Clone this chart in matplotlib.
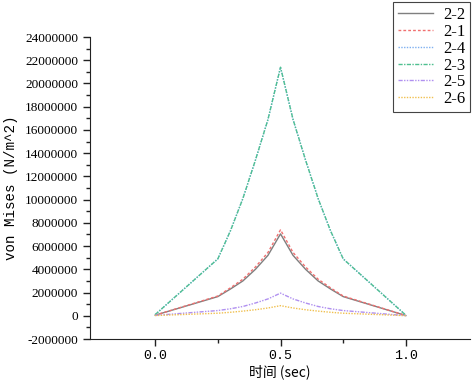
import matplotlib
matplotlib.use("Agg")
import matplotlib.pyplot as plt
from matplotlib.ticker import MultipleLocator, FixedLocator

plt.rcParams['font.family'] = ['Noto Sans CJK SC', 'DejaVu Sans']

t = [0.0, 0.25, 0.3, 0.35, 0.4, 0.45, 0.5, 0.55, 0.6, 0.65, 0.7, 0.75, 1.0]
s22 = [0.05e6, 1.65e6, 2.3e6, 3.0e6, 4.0e6, 5.2e6, 7.05e6, 5.2e6, 4.0e6, 3.0e6, 2.3e6, 1.65e6, 0.02e6]
s21 = [0.05e6, 1.7e6, 2.4e6, 3.15e6, 4.2e6, 5.45e6, 7.4e6, 5.45e6, 4.2e6, 3.15e6, 2.4e6, 1.7e6, 0.02e6]
s24 = [0.1e6, 4.9e6, 7.3e6, 10.1e6, 13.4e6, 16.9e6, 21.4e6, 16.9e6, 13.4e6, 10.1e6, 7.3e6, 4.9e6, 0.05e6]
s23 = [0.1e6, 4.9e6, 7.3e6, 10.1e6, 13.4e6, 16.9e6, 21.4e6, 16.9e6, 13.4e6, 10.1e6, 7.3e6, 4.9e6, 0.05e6]
s25 = [0.03e6, 0.45e6, 0.6e6, 0.8e6, 1.1e6, 1.45e6, 1.95e6, 1.45e6, 1.1e6, 0.8e6, 0.6e6, 0.45e6, 0.01e6]
s26 = [0.02e6, 0.22e6, 0.3e6, 0.4e6, 0.52e6, 0.67e6, 0.87e6, 0.67e6, 0.52e6, 0.4e6, 0.3e6, 0.22e6, 0.01e6]
labels = ["2-2", "2-1", "2-4", "2-3", "2-5", "2-6"]
yticks = list(range(-2000000, 24000001, 2000000))
xticks = [0.0, 0.5, 1.0]
xticklabels = ["0.0", "0.5", "1.0"]

fig = plt.figure(figsize=(4.72, 3.83), dpi=100)
ax = fig.add_axes([90/472, 44/383, 380/472, 302/383])

series = [s22, s21, s24, s23, s25, s26]
styles = [
    dict(color='#7f7f7f', ls='-', lw=1.0),
    dict(color='#f07070', ls=(0, (2, 1.5)), lw=1.0),
    dict(color='#7fb0f0', ls=(0, (1, 1)), lw=1.0),
    dict(color='#50c090', ls=(0, (3, 1, 1, 1)), lw=1.0),
    dict(color='#b090f0', ls=(0, (3, 1, 1, 1, 1, 1)), lw=1.0),
    dict(color='#f0c050', ls=(0, (1, 1)), lw=1.0),
]
handles = []
for s, st, lab in zip(series, styles, labels):
    h, = ax.plot(t, s, label=lab, **st)
    handles.append(h)

ax.set_xlim(-0.26, 1.256)
ax.set_ylim(-2000000, 24000000)
ax.set_yticks(yticks)
ax.set_yticklabels([str(v) for v in yticks], family=['Liberation Serif'], fontsize=9.5)
ax.yaxis.set_minor_locator(MultipleLocator(1000000))
ax.set_xticks(xticks)
ax.set_xticklabels(xticklabels, family=['Liberation Mono'], fontsize=9.5)
ax.xaxis.set_minor_locator(FixedLocator([0.25, 0.75]))
ax.tick_params(which='major', direction='out', length=5, width=1, color='#222222')
ax.tick_params(which='minor', direction='out', length=3, width=1, color='#222222')
ax.tick_params(axis='x', pad=3)
for sp in ['top', 'right']:
    ax.spines[sp].set_visible(False)
for sp in ['left', 'bottom']:
    ax.spines[sp].set_color('#222222')

ax.set_ylabel("von Mises (N/m^2)", family=['Liberation Mono'], fontsize=10.2)
ax.yaxis.set_label_coords(-0.19, 0.5)
ax.set_xlabel("时间 (sec)", fontsize=10)
ax.xaxis.set_label_coords(0.5, -0.085)

leg = fig.legend(handles=handles, labels=labels, loc='upper right',
                 bbox_to_anchor=(470/472, 1 - 2/383), borderaxespad=0,
                 prop={'family': 'Liberation Serif', 'size': 12},
                 fancybox=False, edgecolor='#444444', framealpha=1, handlelength=2.1,
                 labelspacing=0.05, borderpad=0.3, handletextpad=0.6)
leg.get_frame().set_linewidth(0.8)

fig.savefig("out.png", dpi=100)
